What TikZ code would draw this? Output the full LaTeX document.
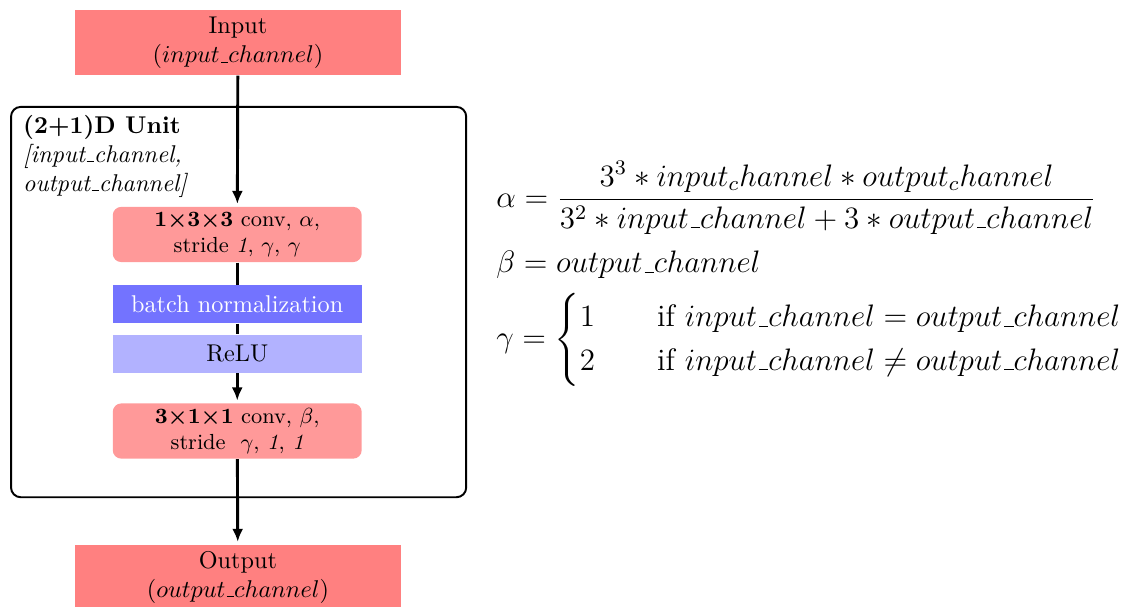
\documentclass[tikz,border=0pt]{standalone}
\usepackage{amsmath}
\usepackage{xcolor}
\usepackage{tikz}
\usetikzlibrary{shapes,arrows,arrows.meta,positioning}

% short low underscore
\newcommand{\usc}{\leavevmode\kern.06em\vbox{\hrule width.3em}}

\tikzset{
    iobox/.style={fill=red!50, minimum width=4.73cm, minimum height=0.94cm, align=center, inner sep=1pt},
    convbox/.style={fill=red!40, rounded corners=3.5pt, minimum width=3.61cm, minimum height=0.80cm, align=center, font=\small, inner sep=1pt},
    normbox/.style={fill=blue!55, text=white, minimum width=3.61cm, minimum height=0.55cm, inner sep=1pt},
    actbox/.style={fill=blue!30, minimum width=3.61cm, minimum height=0.55cm, inner sep=1pt},
    flowarrow/.style={-{Latex[length=1.9mm,width=1.6mm]}, very thick, shorten >=1pt},
    flowline/.style={very thick},
    eqn/.style={anchor=west, inner sep=0pt, font=\large, scale=1.068, transform shape}
}

\begin{document}
\begin{tikzpicture}

                \useasboundingbox (0,0) rectangle (16.40,-8.80);

                % (2+1)D unit frame
                \node[
                    draw,
                    thick,
                    rounded corners=4pt,
                    minimum width=6.60cm,
                    minimum height=5.66cm
                ] (unit) at (3.46,-4.38) {};

                \node[
                    anchor=north west,
                    inner sep=0pt,
                    align=left
                ] (unitlabel) at (0.33,-1.66) {\textbf{(2+1)D Unit}\\ \textit{[input\usc channel,}\\ \textit{output\usc channel]}};

                \node[iobox] (input) at (3.45,-0.62) {Input\\ $(input\usc channel)$};

                \node[convbox] (conv1) at (3.44,-3.40) {\textbf{\boldmath 1$\times$3$\times$3} conv, $\alpha$,\\ stride \textit{1}, $\gamma$, $\gamma$};

                \node[normbox] (bn) at (3.44,-4.41) {batch normalization};

                \node[actbox] (relu) at (3.44,-5.13) {ReLU};

                \node[convbox] (conv2) at (3.44,-6.25) {\textbf{\boldmath 3$\times$1$\times$1} conv, $\beta$,\\ stride~ $\gamma$, \textit{1}, \textit{1}};

                \node[iobox] (output) at (3.45,-8.37) {Output\\ $(output\usc channel)$};

                \draw[flowarrow] (input) -- (conv1);
                \draw[flowline] (conv1) -- (bn);
                \draw[flowline] (bn) -- (relu);
                \draw[flowarrow] (relu) -- (conv2);
                \draw[flowarrow] (conv2) -- (output);

                % equations
                \node[eqn] (alphaeq) at (7.19,-2.87) {$\alpha = \dfrac{3^3*input_channel*output_channel}{3^2*input\usc channel+3*output\usc channel}$};

                \node[eqn] (betaeq) at (7.19,-3.84) {$\beta = output\usc channel$};

                \node[eqn] (gammaeq) at (7.19,-4.93) {$\gamma = \begin{cases} 1 & \quad\text{if } input\usc channel = output\usc channel\\ 2 & \quad\text{if } input\usc channel \neq output\usc channel \end{cases}$};

            \end{tikzpicture}
\end{document}
